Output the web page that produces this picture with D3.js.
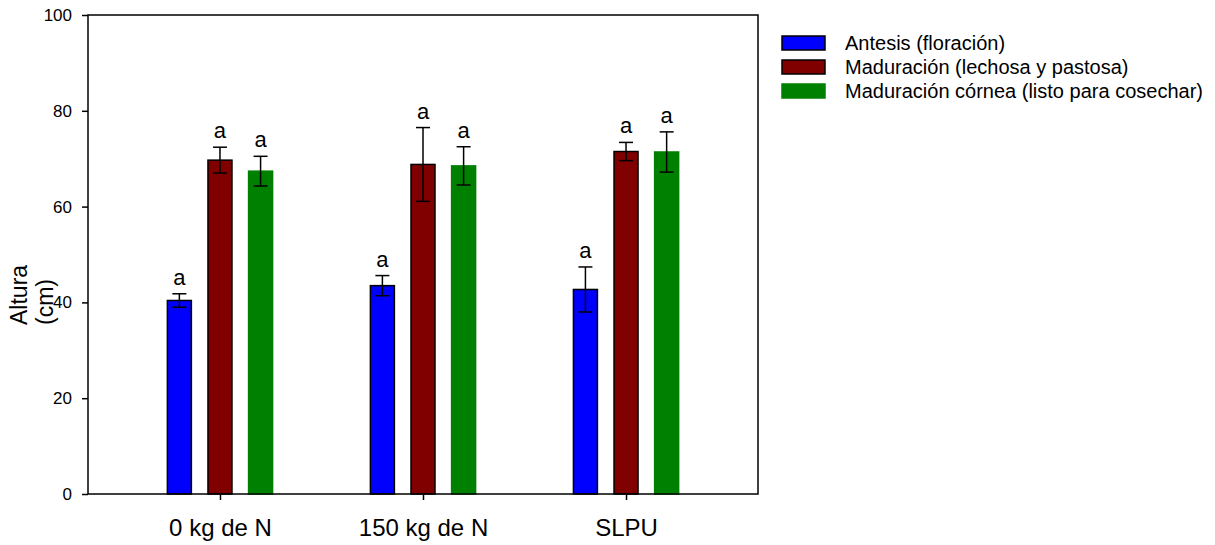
<!DOCTYPE html>
<html lang="es">
<head>
<meta charset="UTF-8">
<title>Altura</title>
<script src="https://d3js.org/d3.v7.min.js"></script>
<style>
  body { margin: 0; background: #fff; }
  svg text { font-family: "Liberation Sans", Arial, sans-serif; fill: #000; }
</style>
</head>
<body>
<div id="chart"></div>
<script>
    // data
    var groups = ["0 kg de N", "150 kg de N", "SLPU"];
    var seriesNames = ["Antesis (floración)", "Maduración (lechosa y pastosa)", "Maduración córnea (listo para cosechar)"];
    var antesis = [40.4, 43.5, 42.7];
    var antesisErr = [1.4, 2.1, 4.7];
    var lechosa = [69.7, 68.8, 71.5];
    var lechosaErr = [2.7, 7.7, 1.9];
    var cornea = [67.4, 68.5, 71.4];
    var corneaErr = [3.1, 4.0, 4.2];
    var letters = ["a", "a", "a"];
    var yTicks = [0, 20, 40, 60, 80, 100];

    var colors = ["#0000ff", "#800000", "#008000"];
    var outlines = ["#000", "#000", "#008000"];

    var W = 1215, H = 545;
    var margin = { top: 15, right: 457, bottom: 51, left: 88 };
    var width = W - margin.left - margin.right;
    var height = H - margin.top - margin.bottom;

    var svg = d3.select("#chart")
        .append("svg")
        .attr("width", W)
        .attr("height", H)
        .append("g")
        .attr("transform", "translate(" + margin.left + "," + margin.top + ")");

    var x = d3.scalePoint().domain(groups).range([0, width]).padding(0.65);
    var y = d3.scaleLinear().domain([0, 100]).range([height, 0]);

    // offsets of the three bars inside a group
    var inner = d3.scalePoint().domain(seriesNames).range([-x.step() * 0.2, x.step() * 0.2]);
    var barW = 24;

    var values = [antesis, lechosa, cornea];
    var errs = [antesisErr, lechosaErr, corneaErr];
    var rows = [];
    seriesNames.forEach(function (s, si) {
        groups.forEach(function (g, gi) {
            rows.push({ s: s, si: si, g: g, v: values[si][gi], e: errs[si][gi], lab: letters[gi] });
        });
    });

    // bars
    svg.selectAll(".bar").data(rows).enter().append("rect")
        .attr("class", "bar")
        .attr("x", function (d) { return x(d.g) + inner(d.s) - barW / 2; })
        .attr("y", function (d) { return y(d.v); })
        .attr("width", barW)
        .attr("height", function (d) { return y(0) - y(d.v); })
        .attr("fill", function (d) { return colors[d.si]; })
        .attr("stroke", function (d) { return outlines[d.si]; })
        .attr("stroke-width", 1.5);

    // error bars
    var eb = svg.selectAll(".err").data(rows).enter().append("g")
        .attr("class", "err")
        .attr("stroke", "#000")
        .attr("stroke-width", 1.5);
    eb.append("line")
        .attr("x1", function (d) { return x(d.g) + inner(d.s); })
        .attr("x2", function (d) { return x(d.g) + inner(d.s); })
        .attr("y1", function (d) { return y(d.v + d.e); })
        .attr("y2", function (d) { return y(d.v - d.e); });
    eb.append("line")
        .attr("x1", function (d) { return x(d.g) + inner(d.s) - 7; })
        .attr("x2", function (d) { return x(d.g) + inner(d.s) + 7; })
        .attr("y1", function (d) { return y(d.v + d.e); })
        .attr("y2", function (d) { return y(d.v + d.e); });
    eb.append("line")
        .attr("x1", function (d) { return x(d.g) + inner(d.s) - 7; })
        .attr("x2", function (d) { return x(d.g) + inner(d.s) + 7; })
        .attr("y1", function (d) { return y(d.v - d.e); })
        .attr("y2", function (d) { return y(d.v - d.e); });

    // letters above the error bars
    svg.selectAll(".lab").data(rows).enter().append("text")
        .attr("class", "lab")
        .attr("x", function (d) { return x(d.g) + inner(d.s); })
        .attr("y", function (d) { return y(d.v + d.e) - 9; })
        .attr("text-anchor", "middle")
        .style("font-size", "22px")
        .text(function (d) { return d.lab; });

    // axes
    var yAxis = svg.append("g")
        .call(d3.axisLeft(y).tickValues(yTicks).tickSize(6).tickPadding(10));
    yAxis.selectAll("text").style("font-size", "17px");

    var xAxis = svg.append("g")
        .attr("transform", "translate(0," + height + ")")
        .call(d3.axisBottom(x).tickSize(6).tickPadding(19));
    xAxis.selectAll("text").style("font-size", "24px");

    svg.selectAll(".domain").remove();
    svg.selectAll(".tick line").attr("stroke", "#000").attr("stroke-width", 1.5);

    // frame
    svg.append("rect")
        .attr("width", width)
        .attr("height", height)
        .attr("fill", "none")
        .attr("stroke", "#000")
        .attr("stroke-width", 1.5);

    // y title, two lines left aligned
    var yt = svg.append("text")
        .attr("transform", "rotate(-90)")
        .style("font-size", "23px");
    yt.append("tspan").attr("x", -(height - 169)).attr("y", 27 - margin.left).text("Altura");
    yt.append("tspan").attr("x", -(height - 169)).attr("y", 53 - margin.left).text("(cm)");

    // legend
    var legend = svg.append("g")
        .attr("transform", "translate(" + (782 - margin.left) + "," + (36 - margin.top) + ")");
    var li = legend.selectAll("g").data(seriesNames).enter().append("g")
        .attr("transform", function (d, i) { return "translate(0," + i * 24 + ")"; });
    li.append("rect")
        .attr("width", 43)
        .attr("height", 14)
        .attr("fill", function (d, i) { return colors[i]; })
        .attr("stroke", function (d, i) { return outlines[i]; })
        .attr("stroke-width", 1.5);
    li.append("text")
        .attr("x", 63)
        .attr("y", 14)
        .style("font-size", "20px")
        .text(function (d) { return d; });
</script>
</body>
</html>
